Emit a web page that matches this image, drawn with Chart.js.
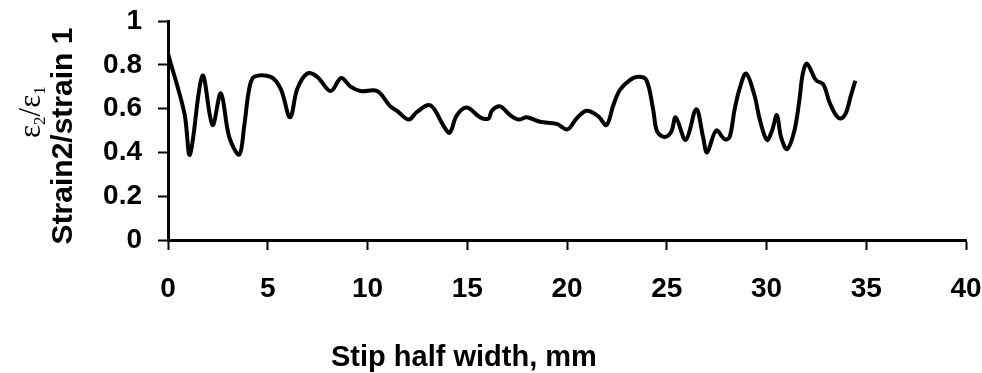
<!DOCTYPE html>
<html>
<head>
<meta charset="utf-8">
<script src="https://cdn.jsdelivr.net/npm/chart.js@4"></script>
<style>
    html, body { margin: 0; padding: 0; background: #fff; }
    #wrap { width: 982px; height: 373px; position: relative; }
</style>
</head>
<body>
<div id="wrap"><canvas id="strainChart"></canvas></div>
<script>
// Strain ratio along the strip half width
const halfWidth = [0, 0.82, 1.1, 1.73, 2.23, 2.65, 3.07, 3.57, 3.82, 4.07,
    4.32, 5.15, 5.65, 6.12, 6.48, 6.98, 7.48, 8.15, 8.68, 9.15,
    9.65, 10.48, 11.15, 11.48, 12.07, 12.48, 13.15, 13.82, 14.12, 14.48,
    14.98, 15.65, 16.07, 16.23, 16.65, 17.15, 17.57, 17.98, 18.65, 19.48,
    20.03, 20.48, 20.98, 21.57, 21.98, 22.32, 22.65, 23.15, 23.57, 23.98,
    24.32, 24.52, 24.9, 25.23, 25.45, 25.95, 26.48, 26.82, 27.02, 27.48,
    27.9, 28.15, 28.4, 28.65, 28.98, 29.4, 29.65, 30.02, 30.28, 30.52,
    30.73, 31.03, 31.4, 31.65, 31.82, 32.03, 32.48, 32.85, 33.15, 33.48,
    33.73, 33.98, 34.23, 34.45];
const strainRatio = [0.85, 0.58, 0.39, 0.75, 0.525, 0.67, 0.47, 0.39, 0.52, 0.69,
    0.745, 0.745, 0.69, 0.56, 0.69, 0.76, 0.745, 0.68, 0.74, 0.70,
    0.68, 0.68, 0.61, 0.59, 0.55, 0.585, 0.615, 0.52, 0.49, 0.57,
    0.605, 0.56, 0.555, 0.59, 0.61, 0.57, 0.55, 0.56, 0.54, 0.53,
    0.505, 0.555, 0.59, 0.565, 0.525, 0.615, 0.685, 0.73, 0.745, 0.73,
    0.595, 0.495, 0.47, 0.495, 0.56, 0.457, 0.597, 0.47, 0.40, 0.50,
    0.46, 0.47, 0.595, 0.69, 0.76, 0.66, 0.555, 0.457, 0.50, 0.57,
    0.47, 0.415, 0.50, 0.64, 0.76, 0.805, 0.73, 0.71, 0.63, 0.57,
    0.555, 0.58, 0.66, 0.727];
const xTicks = [0, 5, 10, 15, 20, 25, 30, 35, 40];
const yTicks = [0, 0.2, 0.4, 0.6, 0.8, 1];
const xTitle = 'Stip half width, mm';
const yTitle = 'Strain2/strain 1';

const tickFont = { family: '"Liberation Sans", Arial, sans-serif', size: 28, weight: 'bold' };

// axis titles drawn by hand (two different fonts on the y side)
const axisTitles = {
    id: 'axisTitles',
    afterDraw(chart) {
        const ctx = chart.ctx;
        ctx.save();
        ctx.fillStyle = '#000';
        // x title
        ctx.font = 'bold 29px "Liberation Sans", Arial, sans-serif';
        ctx.textAlign = 'left';
        ctx.textBaseline = 'alphabetic';
        ctx.fillText(xTitle, 331, 366);

        // y title, bold line
        ctx.save();
        ctx.translate(72, 136);
        ctx.rotate(-Math.PI / 2);
        ctx.font = 'bold 30px "Liberation Sans", Arial, sans-serif';
        ctx.textAlign = 'center';
        ctx.fillText(yTitle, 0, 0);
        ctx.restore();

        // y title, epsilon line
        ctx.save();
        ctx.translate(40, 138);
        ctx.rotate(-Math.PI / 2);
        ctx.textAlign = 'left';
        let x = 0;
        const big = '31px "Liberation Serif", "DejaVu Serif", serif';
        const small = '17px "Liberation Serif", "DejaVu Serif", serif';
        const parts = [['ε', big, 0], ['2', small, 5], ['/', big, 0], ['ε', big, 0], ['1', small, 5]];
        parts.forEach(([t, f, dy]) => {
            ctx.font = f;
            ctx.fillText(t, x, dy);
            x += ctx.measureText(t).width;
        });
        ctx.restore();
        ctx.restore();
    }
};

new Chart(document.getElementById('strainChart').getContext('2d'), {
    type: 'line',
    data: {
        datasets: [{
            data: halfWidth.map((v, i) => ({ x: v, y: strainRatio[i] })),
            borderColor: '#000',
            borderWidth: 4,
            pointRadius: 0,
            tension: 0.35,
            fill: false
        }]
    },
    options: {
        responsive: true,
        maintainAspectRatio: false,
        animation: false,
        layout: { padding: { left: 0, right: 16, top: 21, bottom: 0 } },
        plugins: {
            legend: { display: false },
            tooltip: { enabled: false }
        },
        scales: {
            x: {
                type: 'linear',
                min: 0,
                max: 40,
                afterFit: s => { s.height = 133; s.paddingLeft = 0; s.paddingRight = 0; },
                afterBuildTicks: s => { s.ticks = xTicks.map(v => ({ value: v })); },
                border: { color: '#000', width: 3 },
                grid: { drawOnChartArea: false, tickLength: 10, tickWidth: 2, tickColor: '#000' },
                ticks: { color: '#000', font: tickFont, padding: 22, maxRotation: 0 }
            },
            y: {
                min: 0,
                max: 1,
                afterFit: s => { s.width = 168; s.paddingTop = 0; s.paddingBottom = 0; },
                afterBuildTicks: s => { s.ticks = yTicks.map(v => ({ value: v })); },
                border: { color: '#000', width: 3 },
                grid: { drawOnChartArea: false, tickLength: 10, tickWidth: 2, tickColor: '#000' },
                ticks: { color: '#000', font: tickFont, padding: 16, callback: v => String(v) }
            }
        }
    },
    plugins: [axisTitles]
});
</script>
</body>
</html>
